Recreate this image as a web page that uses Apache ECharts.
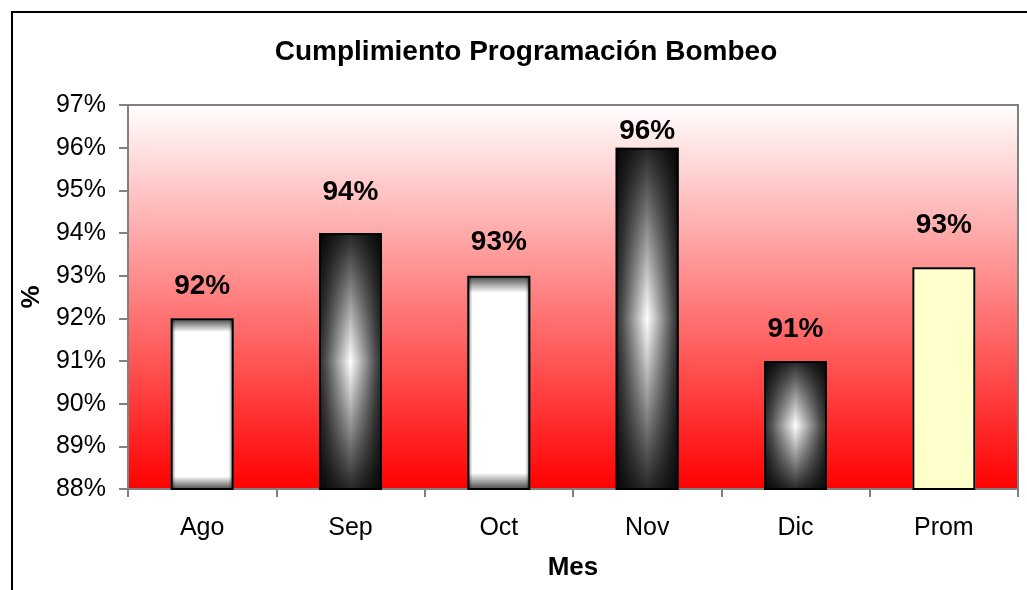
<!DOCTYPE html>
<html>
<head>
<meta charset="utf-8">
<script src="https://cdn.jsdelivr.net/npm/echarts@6/dist/echarts.min.js"></script>
<style>html,body{margin:0;padding:0;background:#fff;}#c{width:1027px;height:590px;}</style>
</head>
<body>
<div id="c"></div>
<script>
var categories = ['Ago', 'Sep', 'Oct', 'Nov', 'Dic', 'Prom'];
var values = [92, 94, 93, 96, 91, 93.2];
var barKinds = ['light', 'dark', 'light', 'dark', 'dark', 'avg'];
var yMin = 88, yMax = 97, yStep = 1;

var FONT = '"Liberation Sans", Arial, sans-serif';
// label gaps above each bar, as placed in the reference
var labelGaps = [18, 27, 19, 2, 18, 28];
function lin(x2, y2, stops) {
  return new echarts.graphic.LinearGradient(0, 0, x2, y2, stops.map(function (s) { return { offset: s[0], color: s[1] }; }));
}
function baseColor(kind) {
  if (kind === 'dark') return lin(1, 0, [[0, '#2a2a2a'], [0.12, '#555'], [0.5, '#ffffff'], [0.88, '#555'], [1, '#2a2a2a']]);
  if (kind === 'light') return lin(1, 0, [[0, '#777'], [0.08, '#fff'], [0.92, '#fff'], [1, '#777']]);
  return '#FFFFCC';
}
function overColor(kind) {
  if (kind === 'dark') return lin(0, 1, [[0, 'rgba(0,0,0,0.85)'], [0.5, 'rgba(0,0,0,0)'], [1, 'rgba(0,0,0,0.85)']]);
  if (kind === 'light') return lin(0, 1, [[0, 'rgba(0,0,0,0.75)'], [0.08, 'rgba(0,0,0,0)'], [0.92, 'rgba(0,0,0,0)'], [1, 'rgba(0,0,0,0.75)']]);
  return 'rgba(0,0,0,0)';
}
var baseData = values.map(function (v, i) { return { value: v, itemStyle: { color: baseColor(barKinds[i]) } }; });
var overData = values.map(function (v, i) {
  return { value: v, itemStyle: { color: overColor(barKinds[i]) }, label: { distance: labelGaps[i] } };
});

var chart = echarts.init(document.getElementById('c'), null, { renderer: 'canvas' });
chart.setOption({
  animation: false,
  backgroundColor: '#fff',
  graphic: [{
    type: 'rect', z: -10, silent: true,
    shape: { x: 12, y: 12, width: 1100, height: 700 },
    style: { fill: 'none', stroke: '#000', lineWidth: 2 }
  }],
  title: {
    text: 'Cumplimiento Programación Bombeo',
    left: 521, top: 33, textAlign: 'center',
    textStyle: { fontFamily: FONT, fontSize: 28, fontWeight: 'bold', color: '#000' }
  },
  grid: {
    left: 128, right: 9, top: 105, bottom: 101,
    show: true, borderColor: '#808080', borderWidth: 2,
    backgroundColor: lin(0, 1, [[0, '#ffffff'], [1, '#ff0000']])
  },
  xAxis: {
    type: 'category', data: categories,
    name: 'Mes', nameLocation: 'middle', nameGap: 66,
    nameTextStyle: { fontFamily: FONT, fontSize: 26, fontWeight: 'bold', color: '#000' },
    axisLine: { lineStyle: { color: '#808080', width: 2 } },
    axisTick: { show: true, length: 8, alignWithLabel: false, lineStyle: { color: '#808080', width: 2 } },
    axisLabel: { fontFamily: FONT, fontSize: 25, color: '#000', margin: 27 }
  },
  yAxis: {
    type: 'value', min: yMin, max: yMax, interval: yStep,
    name: '%', nameLocation: 'middle', nameGap: 81, nameRotate: 90,
    nameTextStyle: { fontFamily: FONT, fontSize: 26, fontWeight: 'bold', color: '#000' },
    axisLine: { show: true, lineStyle: { color: '#808080', width: 2 } },
    axisTick: { show: true, length: 9, lineStyle: { color: '#808080', width: 2 } },
    splitLine: { show: false },
    axisLabel: { fontFamily: FONT, fontSize: 25, color: '#000', margin: 22, formatter: '{value}%' }
  },
  series: [{
    type: 'bar', data: baseData, barWidth: 63, silent: true
  }, {
    type: 'bar', data: overData, barWidth: 63, barGap: '-100%', silent: true,
    itemStyle: { borderColor: '#000', borderWidth: 2 },
    label: {
      show: true, position: 'top', distance: 18,
      fontFamily: FONT, fontSize: 28, fontWeight: 'bold', color: '#000',
      formatter: function (p) { return Math.round(p.value) + '%'; }
    }
  }]
});
</script>
</body>
</html>
